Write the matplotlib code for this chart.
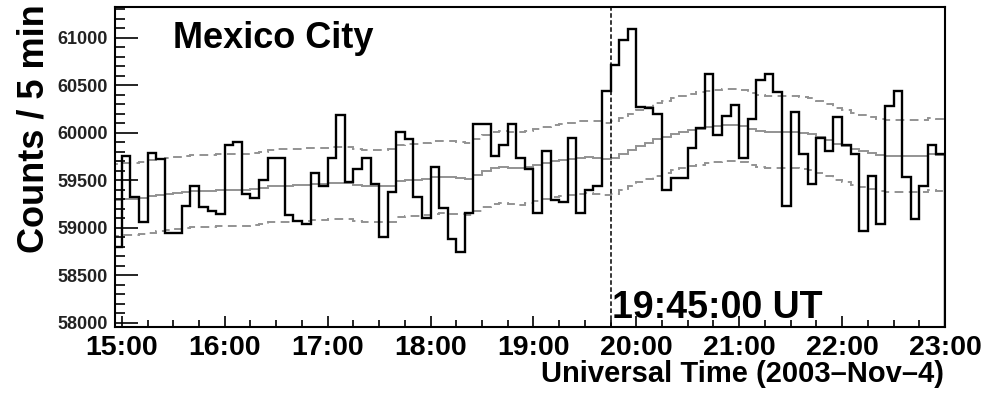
import numpy as np
import matplotlib.pyplot as plt
from matplotlib.ticker import MultipleLocator

plt.rcParams['font.family'] = ['Liberation Sans', 'DejaVu Sans']
plt.rcParams['font.weight'] = 'bold'

# 5-minute bins, times in minutes after 15:00 UT (first bin opens at 14:55)
bin_start = -5
bin_width = 5

counts = [
    58800,
    59760, 59320, 59060, 59790, 59720, 58950, 58950, 59230, 59440, 59220, 59180, 59150,
    59870, 59900, 59360, 59310, 59500, 59730, 59730, 59130, 59070, 59040, 59580, 59440,
    59730, 60190, 59480, 59620, 59730, 59460, 58900, 59380, 60010, 59940, 59320, 59100,
    59640, 59210, 58880, 58740, 59160, 60090, 60090, 59760, 59870, 60090, 59730, 59620,
    59160, 59810, 59290, 59270, 59950, 59160, 59400, 59440, 60440, 60710, 60980, 61090,
    60270, 60260, 60200, 59400, 59520, 59520, 59840, 60050, 60620, 59980, 60180, 60290,
    59730, 60150, 60560, 60620, 60430, 59230, 60220, 59780, 59460, 59950, 59810, 60170,
    59870, 59780, 58970, 59550, 59040, 60280, 60440, 59530, 59090, 59440, 59870, 59780,
]

# running mean of the counts, one value per bin
running_mean = [
    59290,
    59300, 59305, 59315, 59330, 59345, 59355, 59365, 59375, 59385, 59390, 59390, 59395,
    59395, 59400, 59400, 59405, 59420, 59440, 59445, 59445, 59450, 59455, 59460, 59465,
    59470, 59475, 59470, 59450, 59440, 59440, 59440, 59445, 59490, 59505, 59505, 59510,
    59530, 59535, 59530, 59520, 59510, 59560, 59600, 59630, 59640, 59630, 59625, 59640,
    59660, 59680, 59700, 59710, 59720, 59740, 59745, 59740, 59720, 59740, 59780, 59820,
    59860, 59890, 59930, 59960, 59990, 60010, 60030, 60045, 60060, 60070, 60080, 60080,
    60070, 60040, 60020, 60010, 60010, 60005, 60005, 60000, 59985, 59960, 59920, 59880,
    59860, 59830, 59810, 59790, 59770, 59760, 59760, 59760, 59760, 59760, 59780, 59770,
]
band = 380  # half-width of the dashed envelope

hours = ['15:00', '16:00', '17:00', '18:00', '19:00', '20:00', '21:00', '22:00', '23:00']
event_time = 285  # 19:45 UT

counts = np.array(counts)
running_mean = np.array(running_mean)
edges = bin_start + bin_width * np.arange(len(counts) + 1)

fig = plt.figure(figsize=(9.95, 3.94), dpi=100)
ax = fig.add_axes([0.1156, 0.1713, 0.8341, 0.8097])

gray = '#939393'
ax.stairs(running_mean + band, edges, color=gray, lw=1.4, ls=(0, (4.5, 2.8)))
ax.stairs(running_mean - band, edges, color=gray, lw=1.4, ls=(0, (4.5, 2.8)))
ax.stairs(running_mean, edges, color=gray, lw=1.4)
ax.stairs(counts, edges, color='black', lw=1.7)

ax.axvline(event_time, color='black', lw=1.1, ls=(0, (3, 1.6)))

ax.set_xlim(-4, 480)
ax.set_ylim(57960, 61320)

ax.set_xticks(np.arange(len(hours)) * 60)
ax.set_xticklabels(hours)
ax.xaxis.set_minor_locator(MultipleLocator(15))
ax.set_yticks(np.arange(58000, 61001, 500))
ax.yaxis.set_minor_locator(MultipleLocator(100))

for s in ax.spines.values():
    s.set_linewidth(1.5)

ax.tick_params(which='both', direction='in', top=False, right=False, width=1.2)
ax.tick_params(axis='y', which='major', length=16.5, labelsize=13, pad=5, labelcolor='#222222')
ax.tick_params(axis='y', which='minor', length=7.2)
ax.tick_params(axis='x', which='major', length=8, labelsize=20.5, pad=6)
ax.tick_params(axis='x', which='minor', length=5)

fig.text(173 / 995, 1 - 48 / 394, 'Mexico City', fontsize=26, ha='left', va='baseline')
fig.text(612 / 995, 1 - 318 / 394, '19:45:00 UT', fontsize=27, ha='left', va='baseline')
fig.text(34 / 995, 0.99, 'Counts / 5 min', fontsize=26, rotation=90, ha='center', va='top')
fig.text(944 / 995, 1 - 374 / 394, 'Universal Time (2003\u2013Nov\u20134)', fontsize=21,
         ha='right', va='center')

fig.savefig('out.png', dpi=100)
